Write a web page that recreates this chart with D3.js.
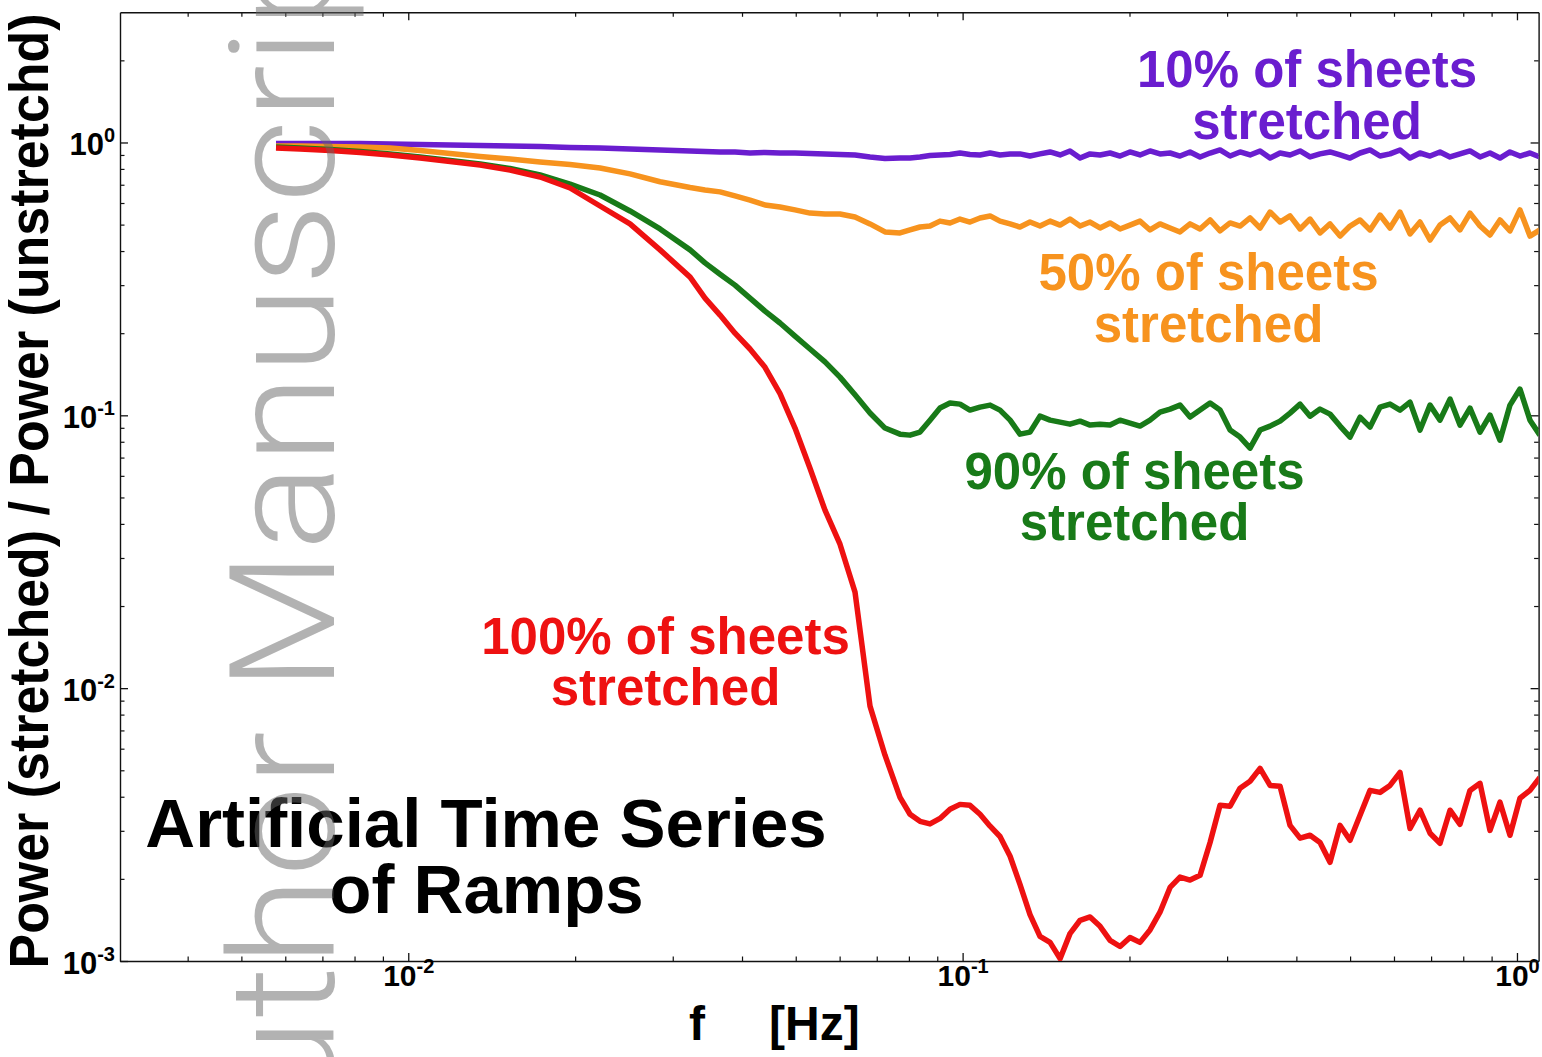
<!DOCTYPE html>
<html><head><meta charset="utf-8">
<script src="https://cdn.jsdelivr.net/npm/d3@7"></script>
<style>
html,body{margin:0;padding:0;background:#fff;}
svg{display:block;}
text{font-family:"Liberation Sans",Arial,Helvetica,sans-serif;}
</style></head><body>
<svg id="chart" width="1542" height="1057"></svg>
<script>
// ---------- data ----------
const freq = [
  0.005774, 0.006379, 0.007228, 0.008186, 0.009273, 0.01050, 0.01190, 0.01348, 0.01526, 0.01729, 0.01958, 0.02218, 0.02512, 0.02846, 0.03224,
  0.03430, 0.03651, 0.03885, 0.04135, 0.04401, 0.04684, 0.04985, 0.05305, 0.05646, 0.06009, 0.06396, 0.06807, 0.07244, 0.07710,
  0.08037, 0.08378, 0.08733, 0.09104, 0.09490, 0.09892, 0.1031, 0.1075, 0.1121, 0.1168,
  0.1218, 0.1269, 0.1323, 0.1379, 0.1438, 0.1499, 0.1562, 0.1629, 0.1698, 0.1770,
  0.1845, 0.1923, 0.2004, 0.2089, 0.2178, 0.2270, 0.2367, 0.2467, 0.2572, 0.2681,
  0.2795, 0.2913, 0.3037, 0.3166, 0.3300, 0.3440, 0.3586, 0.3738, 0.3896, 0.4062,
  0.4234, 0.4413, 0.4600, 0.4796, 0.4999, 0.5211, 0.5432, 0.5662, 0.5902, 0.6152,
  0.6413, 0.6685, 0.6969, 0.7264, 0.7572, 0.7893, 0.8228, 0.8577, 0.8940, 0.9319,
  0.9714, 1.0125, 1.0555, 1.100
];
const pct10 = [
  0.992, 0.992, 0.992, 0.992, 0.987, 0.983, 0.979, 0.975, 0.971, 0.967, 0.959, 0.955, 0.947, 0.939, 0.931,
  0.927, 0.923, 0.923, 0.915, 0.919, 0.915, 0.915, 0.911, 0.908, 0.904, 0.900, 0.885, 0.874, 0.877,
  0.877, 0.885, 0.896, 0.900, 0.904, 0.915, 0.904, 0.900, 0.915, 0.900,
  0.908, 0.908, 0.892, 0.908, 0.923, 0.900, 0.931, 0.877, 0.908, 0.900,
  0.915, 0.892, 0.923, 0.900, 0.931, 0.908, 0.915, 0.892, 0.923, 0.885,
  0.915, 0.939, 0.892, 0.923, 0.900, 0.931, 0.877, 0.915, 0.900, 0.931,
  0.885, 0.908, 0.923, 0.900, 0.877, 0.915, 0.939, 0.892, 0.908, 0.939,
  0.877, 0.915, 0.892, 0.923, 0.885, 0.908, 0.931, 0.885, 0.915, 0.877,
  0.923, 0.892, 0.915, 0.885
];
const pct50 = [
  0.971, 0.971, 0.967, 0.963, 0.955, 0.935, 0.911, 0.889, 0.870, 0.848, 0.831, 0.806, 0.767, 0.718, 0.684,
  0.670, 0.659, 0.637, 0.615, 0.590, 0.580, 0.566, 0.551, 0.547, 0.547, 0.533, 0.503, 0.470, 0.466,
  0.478, 0.490, 0.494, 0.515, 0.507, 0.524, 0.511, 0.529, 0.538, 0.515,
  0.503, 0.490, 0.511, 0.494, 0.515, 0.498, 0.524, 0.494, 0.511, 0.486,
  0.507, 0.482, 0.498, 0.515, 0.478, 0.503, 0.486, 0.470, 0.503, 0.482,
  0.520, 0.474, 0.507, 0.494, 0.529, 0.486, 0.556, 0.511, 0.538, 0.482,
  0.524, 0.466, 0.503, 0.454, 0.494, 0.520, 0.478, 0.542, 0.486, 0.556,
  0.462, 0.511, 0.439, 0.498, 0.529, 0.478, 0.551, 0.494, 0.458, 0.520,
  0.474, 0.566, 0.454, 0.478
];
const pct90 = [
  0.963, 0.955, 0.943, 0.927, 0.908, 0.885, 0.859, 0.834, 0.803, 0.760, 0.704, 0.642, 0.561, 0.482, 0.404,
  0.362, 0.329, 0.300, 0.269, 0.241, 0.218, 0.195, 0.175, 0.157, 0.138, 0.119, 0.102, 0.0898, 0.0853,
  0.0846, 0.0868, 0.0960, 0.1063, 0.1109, 0.1099, 0.1045, 0.1072, 0.1090, 0.1045,
  0.0960, 0.0853, 0.0868, 0.0993, 0.0960, 0.0944, 0.0928, 0.0952, 0.0921, 0.0928,
  0.0921, 0.0960, 0.0936, 0.0913, 0.0960, 0.1027, 0.1054, 0.1090, 0.0985, 0.1045,
  0.1109, 0.1045, 0.0883, 0.0832, 0.0758, 0.0883, 0.0913, 0.0952, 0.1019, 0.1099,
  0.0993, 0.1054, 0.1010, 0.0913, 0.0832, 0.0985, 0.0905, 0.1072, 0.1099, 0.1045,
  0.1118, 0.0883, 0.1090, 0.0960, 0.1147, 0.0921, 0.1063, 0.0868, 0.1002, 0.0811,
  0.1090, 0.1248, 0.0960, 0.0846
];
const pct100 = [
  0.955, 0.947, 0.935, 0.919, 0.900, 0.877, 0.852, 0.827, 0.793, 0.747, 0.681, 0.585, 0.503, 0.404, 0.321,
  0.269, 0.233, 0.200, 0.175, 0.150, 0.120, 0.0898, 0.0640, 0.0449, 0.0337, 0.0225, 0.00859, 0.00568, 0.00398,
  0.00345, 0.00325, 0.00318, 0.00333, 0.00360, 0.00375, 0.00372, 0.00345, 0.00312, 0.00286,
  0.00242, 0.00191, 0.00148, 0.00123, 0.00117, 0.00102, 0.00126, 0.00141, 0.00145, 0.00134,
  0.00119, 0.00113, 0.00122, 0.00117, 0.00130, 0.00151, 0.00186, 0.00203, 0.00198, 0.00206,
  0.00272, 0.00372, 0.00369, 0.00430, 0.00456, 0.00508, 0.00440, 0.00437, 0.00314, 0.00282,
  0.00289, 0.00272, 0.00230, 0.00314, 0.00277, 0.00342, 0.00422, 0.00415, 0.00440, 0.00491,
  0.00306, 0.00357, 0.00294, 0.00270, 0.00357, 0.00317, 0.00422, 0.00448, 0.00301, 0.00382,
  0.00289, 0.00395, 0.00422, 0.00471
];
const seriesNames = ["10% of sheets stretched", "50% of sheets stretched", "90% of sheets stretched", "100% of sheets stretched"];
const seriesColors = ["#6a1dcf", "#f7931e", "#187a18", "#ee1111"];

const xMajorTicks = [0.01, 0.1, 1];
const xTickLabels = [["10", "-2"], ["10", "-1"], ["10", "0"]];
const xMinorTicks = [0.004, 0.005, 0.006, 0.007, 0.008, 0.009,
                     0.02, 0.03, 0.04, 0.05, 0.06, 0.07, 0.08, 0.09,
                     0.2, 0.3, 0.4, 0.5, 0.6, 0.7, 0.8, 0.9];
const yMajorTicks = [0.001, 0.01, 0.1, 1];
const yTickLabels = [["10", "-3"], ["10", "-2"], ["10", "-1"], ["10", "0"]];
const yMinorTicks = [0.002, 0.003, 0.004, 0.005, 0.006, 0.007, 0.008, 0.009,
                     0.02, 0.03, 0.04, 0.05, 0.06, 0.07, 0.08, 0.09,
                     0.2, 0.3, 0.4, 0.5, 0.6, 0.7, 0.8, 0.9, 2];

const xTitle = ["f", "[Hz]"];
const yTitle = "Power (stretched) / Power (unstretchd)";
const chartTitle = ["Artificial Time Series", "of Ramps"];
const watermark = "Author Manuscript";

// ---------- layout ----------
const m = {left: 120, top: 12.3, right: 1538.6, bottom: 961};
const x = d3.scaleLog().domain([0.00302, 1.094]).range([m.left, m.right]);
const y = d3.scaleLog().domain([0.001, 3]).range([m.bottom, m.top]);
const svg = d3.select("#chart");

svg.append("rect").attr("width", 1542).attr("height", 1057).attr("fill", "#fff");

svg.append("defs").append("clipPath").attr("id", "plotclip")
  .append("rect").attr("x", m.left).attr("y", m.top)
  .attr("width", m.right - m.left).attr("height", m.bottom - m.top);

// ---------- axes ----------
function axisGroup(gen, tx, ty) {
  return svg.append("g").attr("transform", `translate(${tx},${ty})`).call(gen);
}
const axStroke = "#111";
[[d3.axisBottom(x).tickValues(xMinorTicks), 0, m.bottom],
 [d3.axisTop(x).tickValues(xMinorTicks), 0, m.top],
 [d3.axisLeft(y).tickValues(yMinorTicks), m.left, 0],
 [d3.axisRight(y).tickValues(yMinorTicks), m.right, 0]].forEach(([gen, tx, ty]) => {
  const g = axisGroup(gen.tickSizeInner(-4.5).tickSizeOuter(0).tickFormat(() => ""), tx, ty);
  g.select(".domain").remove();
  g.selectAll(".tick line").attr("stroke", axStroke).attr("stroke-width", 1.2);
  g.selectAll(".tick text").remove();
});
const gxB = axisGroup(d3.axisBottom(x).tickValues(xMajorTicks).tickSizeInner(-8).tickSizeOuter(0).tickPadding(6), 0, m.bottom);
const gxT = axisGroup(d3.axisTop(x).tickValues(xMajorTicks).tickSizeInner(-8).tickSizeOuter(0).tickFormat(() => ""), 0, m.top);
const gyL = axisGroup(d3.axisLeft(y).tickValues(yMajorTicks).tickSizeInner(-8).tickSizeOuter(0).tickPadding(5), m.left, 0);
const gyR = axisGroup(d3.axisRight(y).tickValues(yMajorTicks).tickSizeInner(-8).tickSizeOuter(0).tickFormat(() => ""), m.right, 0);
[gxB, gxT, gyL, gyR].forEach(g => {
  g.attr("font-size", null).attr("font-family", null);
  g.select(".domain").attr("stroke", axStroke).attr("stroke-width", 1.4);
  g.selectAll(".tick line").attr("stroke", axStroke).attr("stroke-width", 1.3);
});
gxT.selectAll(".tick text").remove();
gyR.selectAll(".tick text").remove();

gxB.selectAll(".tick text").each(function (d) {
  const lab = xTickLabels[xMajorTicks.indexOf(d)];
  const t = d3.select(this).text(null)
    .attr("x", 0).attr("y", 25).attr("dy", null).attr("fill", "#000")
    .style("font-size", "30px").style("font-weight", "bold")
    .style("font-family", '"Liberation Sans", Arial, sans-serif')
    .attr("text-anchor", "middle");
  t.append("tspan").text(lab[0]);
  t.append("tspan").text(lab[1]).style("font-size", "20px").attr("dy", -13);
});
gyL.selectAll(".tick text").each(function (d) {
  const lab = yTickLabels[yMajorTicks.indexOf(d)];
  const t = d3.select(this).text(null)
    .attr("x", -5).attr("y", 0).attr("dy", 12).attr("fill", "#000")
    .style("font-size", "31px").style("font-weight", "bold")
    .style("font-family", '"Liberation Sans", Arial, sans-serif')
    .attr("text-anchor", "end");
  t.append("tspan").text(lab[0]);
  t.append("tspan").text(lab[1]).style("font-size", "20px").attr("dy", -13);
});

// ---------- lines ----------
const allSeries = [pct10, pct50, pct90, pct100];
const line = d3.line().x(d => x(d.f)).y(d => y(d.v));
const plot = svg.append("g").attr("clip-path", "url(#plotclip)");
allSeries.forEach((vals, k) => {
  plot.append("path")
    .datum(freq.map((f, i) => ({f, v: vals[i]})))
    .attr("d", line)
    .attr("fill", "none")
    .attr("stroke", seriesColors[k])
    .attr("stroke-width", 5.5)
    .attr("stroke-linejoin", "round")
    .attr("stroke-linecap", "butt");
});

// ---------- series labels ----------
const labelPos = [
  {cx: 1307, y1: 87, y2: 138.5},
  {cx: 1208.5, y1: 290, y2: 342},
  {cx: 1134.5, y1: 488.5, y2: 540},
  {cx: 665.5, y1: 653.5, y2: 705}
];
seriesNames.forEach((name, k) => {
  const parts = [name.replace(" stretched", ""), "stretched"];
  const p = labelPos[k];
  [p.y1, p.y2].forEach((yy, j) => {
    svg.append("text").attr("x", p.cx).attr("y", yy)
      .attr("text-anchor", "middle").attr("font-size", 51).attr("font-weight", "bold")
      .attr("fill", seriesColors[k]).text(parts[j]);
  });
});

// ---------- chart title inside plot ----------
svg.append("text").attr("x", 486).attr("y", 847).attr("text-anchor", "middle")
  .attr("font-size", 69).attr("font-weight", "bold").attr("fill", "#000").text(chartTitle[0]);
svg.append("text").attr("x", 486.5).attr("y", 913).attr("text-anchor", "middle")
  .attr("font-size", 69).attr("font-weight", "bold").attr("fill", "#000").text(chartTitle[1]);

// ---------- axis titles ----------
svg.append("text").attr("x", 689).attr("y", 1040).attr("font-size", 48).attr("font-weight", "bold")
  .attr("fill", "#000").text(xTitle[0]);
svg.append("text").attr("x", 769).attr("y", 1040).attr("font-size", 48).attr("font-weight", "bold")
  .attr("fill", "#000").text(xTitle[1]);
svg.append("text").attr("transform", "translate(48,491) rotate(-90)")
  .attr("text-anchor", "middle").attr("font-size", 55).attr("font-weight", "bold")
  .attr("textLength", 955).attr("lengthAdjust", "spacingAndGlyphs")
  .attr("fill", "#000").text(yTitle);

// ---------- watermark ----------
svg.append("text").attr("transform", "translate(334,1208) rotate(-90)")
  .style("font-family", 'Roboto, "Liberation Sans", Arial, sans-serif')
  .style("font-weight", "300").style("font-size", "146px")
  .attr("textLength", 1322).attr("lengthAdjust", "spacingAndGlyphs")
  .attr("fill", "#666").attr("fill-opacity", 0.5)
  .text(watermark);
</script>
</body></html>
